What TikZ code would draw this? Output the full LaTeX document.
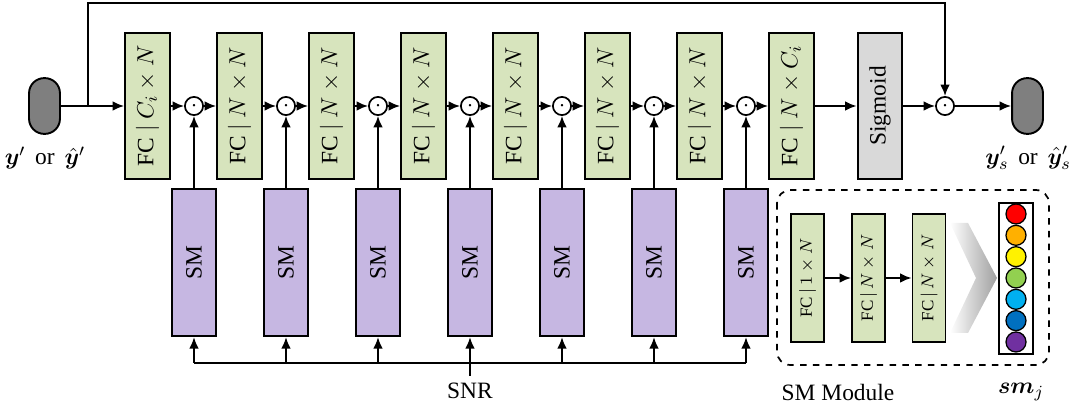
\documentclass[tikz,border=0pt]{standalone}
\usepackage{amsmath,amssymb,bm}
\usepackage{fontspec}
\setmainfont{Liberation Serif}
\usepackage{tikz}
\usetikzlibrary{arrows.meta,positioning,calc}
\definecolor{NetGreen}{HTML}{D7E4BD}
\definecolor{NetPurple}{HTML}{C6B7E2}
\definecolor{NetGray}{HTML}{D9D9D9}
\definecolor{NetPill}{HTML}{7F7F7F}
\definecolor{NetOrange}{HTML}{FFB000}
\definecolor{NetLime}{HTML}{92D050}
\definecolor{NetSky}{HTML}{00B0F0}
\definecolor{NetBlue}{HTML}{0070C0}
\definecolor{NetViolet}{HTML}{7030A0}

\begin{document}
\begin{tikzpicture}[x=0.0165cm,y=-0.0165cm,font=\fontsize{11}{13}\selectfont,
  fcbox/.style={draw,line width=0.9pt,fill=NetGreen,minimum width=0.74cm,minimum height=2.41cm,inner sep=0pt},
  smbox/.style={fcbox,fill=NetPurple,minimum height=2.43cm},
  odot/.style={draw,circle,line width=0.8pt,fill=white,minimum size=0.3cm,inner sep=0pt},
  pill/.style={draw,line width=0.9pt,fill=NetPill,rounded corners=0.25cm,minimum width=0.51cm,minimum height=0.92cm},
  arr/.style={-{Latex[length=1.9mm,width=1.6mm]},line width=0.9pt},
  ln/.style={line width=0.9pt}]
\useasboundingbox (0,0) rectangle (1070,409);
\node[pill] (in) at (44.5,106) {};
\node (inlab) at (45,158) {$\bm{y}'$\ \,or\ \,$\hat{\bm{y}}'$};
\foreach \i/\lab in {1/{C_i\times N},2/{N\times N},3/{N\times N},4/{N\times N},5/{N\times N},6/{N\times N},7/{N\times N},8/{N\times C_i}}
  \node[fcbox] (fc\i) at ({147.5+92*(\i-1)},106) {\rotatebox{90}{FC $|$ $\lab$}};
\foreach \i in {1,...,7}{
  \node[odot] (m\i) at ({194+92*(\i-1)},106) {$\cdot$};
  \node[smbox] (sm\i) at ({194+92*(\i-1)},262.5) {\rotatebox{90}{SM}};
}
\node[fcbox,fill=NetGray] (sig) at (880,106) {\rotatebox{90}{Sigmoid}};
\node[odot] (mout) at (945,106) {$\cdot$};
\node[pill] (out) at (1027.5,106) {};
\node (outlab) at (1028,158) {$\bm{y}'_s$\ \,or\ \,$\hat{\bm{y}}'_s$};

\draw[arr] (in) -- (fc1);
\foreach \i [count=\j from 2] in {1,...,7}{
  \draw[arr] (fc\i) -- (m\i);
  \draw[arr] (m\i) -- (fc\j);
  \draw[arr] (sm\i) -- (m\i);
}
\draw[arr] (fc8) -- (sig);
\draw[arr] (sig) -- (mout);
\draw[arr] (mout) -- (out);
\coordinate (split) at (88,106);
\draw[arr] (split) -- ++(0,-103) -| (mout);

\coordinate (busL) at (194,363);
\coordinate (busR) at (746,363);
\draw[ln] (busL) -- (busR);
\foreach \i in {1,...,7}
  \draw[arr] (sm\i.south |- busL) -- (sm\i.south);
\node (snr) at (470,391) {SNR};
\draw[ln] (snr.north) -- (sm4.south |- busL);

\draw[dashed,line width=0.8pt,rounded corners=0.22cm] (777,190) rectangle (1049,365);
\foreach \k/\x/\lab in {a/807.5/{1\times N},b/868.5/{N\times N},c/929/{N\times N}}
  \node[fcbox,minimum width=0.545cm,minimum height=2.11cm,font=\footnotesize] (in\k) at (\x,278) {\rotatebox{90}{FC$\,|\,$$\lab$}};
\draw[arr] (ina) -- (inb);
\draw[arr] (inb) -- (inc);
\shade[left color=white,right color=gray!75] (950,223) -- (968,223) -- (997,278) -- (968,333) -- (950,333) -- (976,278) -- cycle;
\node[draw,line width=1pt,minimum width=0.56cm,minimum height=2.49cm,inner sep=0pt] (smj) at (1016,278.5) {};
\foreach \c [count=\k from 0] in {red,NetOrange,yellow,NetLime,NetSky,NetBlue,NetViolet}
  \node[circle,draw,line width=0.6pt,fill=\c,minimum size=0.33cm,inner sep=0pt] (dot\k) at (1016,{214+21.33*\k}) {};
\node (smlab) at (838,392) {SM Module};
\node (smjlab) at (1021,392) {$\bm{sm}_j$};
\end{tikzpicture}
\end{document}
